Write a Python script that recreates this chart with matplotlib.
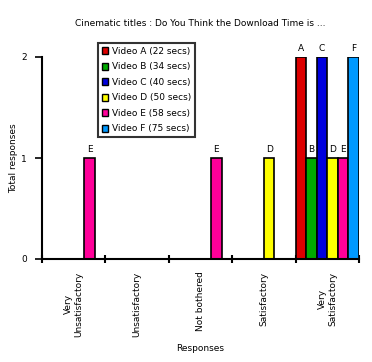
import matplotlib
matplotlib.use("Agg")
import matplotlib.pyplot as plt
import numpy as np

categories = ["Very\nUnsatisfactory", "Unsatisfactory", "Not bothered", "Satisfactory", "Very\nSatisfactory"]
series_names = ["Video A (22 secs)", "Video B (34 secs)", "Video C (40 secs)",
                "Video D (50 secs)", "Video E (58 secs)", "Video F (75 secs)"]
series_letters = ["A", "B", "C", "D", "E", "F"]
colors = ["#dd0000", "#00aa00", "#0000dd", "#ffff00", "#ff0099", "#0099ff"]
values = {
    "A": [0, 0, 0, 0, 2],
    "B": [0, 0, 0, 0, 1],
    "C": [0, 0, 0, 0, 2],
    "D": [0, 0, 0, 1, 1],
    "E": [1, 0, 1, 0, 1],
    "F": [0, 0, 0, 0, 2],
}

FS = 6.5
plt.rcParams['font.family'] = ['DejaVu Sans']
fig = plt.figure(figsize=(3.72, 3.62), dpi=100)
ax = fig.add_axes([42/372, 103/362, 317/372, 202/362])

n = len(series_letters)
w = 1.0 / n
x = np.arange(len(categories))
handles = []
for j, (name, let, c) in enumerate(zip(series_names, series_letters, colors)):
    vals = np.array(values[let])
    lefts = x - 0.5 + j * w
    mask = vals > 0
    ax.bar(lefts[mask], vals[mask], width=w, align='edge', color=c,
           edgecolor='black', linewidth=1.2, zorder=2)
    for l, v in zip(lefts[mask], vals[mask]):
        ax.text(l + w / 2, v + 0.04, let, ha='center', va='bottom', fontsize=FS)
    handles.append(plt.Rectangle((0, 0), 1, 1, facecolor=c, edgecolor='black', linewidth=1))

ax.set_xlim(-0.5, len(categories) - 0.5)
ax.set_ylim(0, 2)
ax.set_yticks([0, 1, 2])
ax.set_yticklabels(["0", "1", "2"], fontsize=FS)
ax.tick_params(axis='y', direction='out', length=5, width=1.2, pad=6)

ax.set_xticks(np.arange(-0.5, len(categories), 1.0), minor=True)
ax.set_xticks(x)
ax.set_xticklabels(categories, rotation=90, va='top', ha='center',
                   multialignment='center', fontsize=FS)
ax.tick_params(axis='x', which='major', length=0, pad=9)
ax.tick_params(axis='x', which='minor', direction='inout', length=6, width=1.5)

for s in ['top', 'right']:
    ax.spines[s].set_visible(False)
for s in ['left', 'bottom']:
    ax.spines[s].set_linewidth(1.5)

ax.set_xlabel("Responses", fontsize=FS, labelpad=5)
ax.set_ylabel("Total responses", fontsize=FS, labelpad=2)
fig.text(200/372, 1 - 24/362, "Cinematic titles : Do You Think the Download Time is ...",
         ha='center', va='center', fontsize=FS)

leg = ax.legend(handles, series_names, loc='upper left', bbox_to_anchor=(0.177, 1.07),
                fontsize=FS, frameon=True, fancybox=False, handlelength=0.6,
                handleheight=0.8, handletextpad=0.5, labelspacing=0.72,
                borderpad=0.45, borderaxespad=0)
leg.get_frame().set_edgecolor('black')
leg.get_frame().set_linewidth(1.5)

fig.savefig("out.png", dpi=100)
